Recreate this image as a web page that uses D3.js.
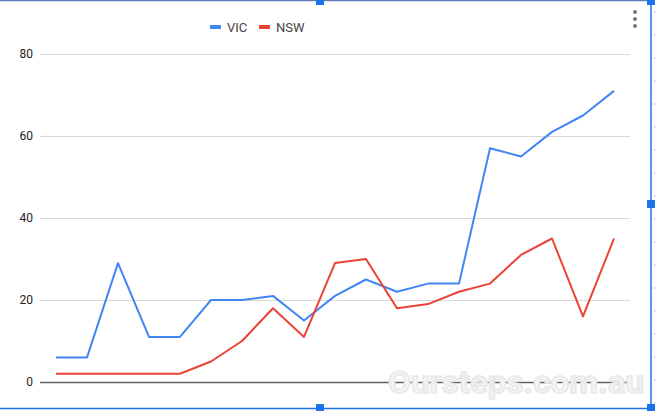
<!DOCTYPE html>
<html>
<head>
<meta charset="utf-8">
<script src="https://cdn.jsdelivr.net/npm/d3@7"></script>
<style>
  body { margin: 0; background: #fff; }
  svg { display: block; font-family: Roboto, Arial, sans-serif; }
</style>
</head>
<body>
<div id="chart"></div>
<script>
// values, one point per period
const periods = d3.range(1, 20);
const vic = [6, 6, 29, 11, 11, 20, 20, 21, 15, 21, 25, 22, 24, 24, 57, 55, 61, 65, 71];
const nsw = [2, 2, 2, 2, 2, 5, 10, 18, 11, 29, 30, 18, 19, 22, 24, 31, 35, 16, 35];
const yTicks = [0, 20, 40, 60, 80];
const seriesNames = ["VIC", "NSW"];

const W = 656, H = 411;
const blue = "#4285f4", red = "#ea4335", selBlue = "#1a73e8";

const svg = d3.select("#chart").append("svg")
  .attr("width", W)
  .attr("height", H);

const x = d3.scalePoint().domain(periods).range([56, 614]);
const y = d3.scaleLinear().domain([0, 80]).range([382, 54]);

// gridlines + y labels
const yAxis = d3.axisLeft(y).tickValues(yTicks).tickSize(-590).tickPadding(7);
const gy = svg.append("g")
  .attr("transform", "translate(40,0)")
  .call(yAxis);
gy.select(".domain").remove();
gy.selectAll(".tick line").attr("stroke", "#d9d9d9").attr("stroke-width", 1);
gy.selectAll(".tick text").attr("fill", "#222").attr("font-size", 12).attr("font-family", "Roboto, Arial, sans-serif");
gy.selectAll(".tick").filter(d => d === 0).select("line").attr("stroke", "#5f5f5f").attr("stroke-width", 1.5);

// watermark
svg.append("text")
  .attr("x", 388).attr("y", 393)
  .attr("font-size", 32).attr("font-weight", "bold")
  .attr("textLength", 256).attr("lengthAdjust", "spacingAndGlyphs")
  .attr("fill", "#f3f3f3")
  .attr("stroke", "#e8e8e8").attr("stroke-width", 1.5)
  .text("Oursteps.com.au");

// lines
const line = d3.line()
  .x((d, i) => x(periods[i]))
  .y(d => y(d));

[[vic, blue], [nsw, red]].forEach(([vals, col]) => {
  svg.append("path")
    .datum(vals)
    .attr("fill", "none")
    .attr("stroke", col)
    .attr("stroke-width", 2)
    .attr("stroke-linejoin", "round")
    .attr("d", line);
});

// legend
const legend = svg.append("g").attr("transform", "translate(210,27)");
const lx = [0, 49];
seriesNames.forEach((n, i) => {
  const g = legend.append("g").attr("transform", `translate(${lx[i]},0)`);
  g.append("rect").attr("x", 0).attr("y", -2).attr("width", 11).attr("height", 4).attr("fill", i ? red : blue);
  g.append("text").attr("x", 17).attr("y", 5).attr("font-size", 13).attr("fill", "#444").text(n);
});

// kebab menu
[12, 19, 26].forEach(cy => {
  svg.append("circle").attr("cx", 635).attr("cy", cy).attr("r", 2).attr("fill", "#757575");
});

// sheet gridline stubs right of the chart
d3.range(12, 411, 23).forEach(gyy => {
  svg.append("line").attr("x1", 653).attr("x2", 656).attr("y1", gyy).attr("y2", gyy).attr("stroke", "#d0d0d0");
});

// selection frame
svg.append("line").attr("x1", 0).attr("x2", 651).attr("y1", 0.5).attr("y2", 0.5).attr("stroke", "#5b7fb8").attr("stroke-width", 1.5);
svg.append("line").attr("x1", 651).attr("x2", 651).attr("y1", 0).attr("y2", 409).attr("stroke", selBlue).attr("stroke-width", 1.5);
svg.append("line").attr("x1", 0).attr("x2", 651).attr("y1", 408.5).attr("y2", 408.5).attr("stroke", selBlue).attr("stroke-width", 1.5);
[[320, 1], [651, 1], [651, 204], [651, 408], [320, 408]].forEach(([hx, hy]) => {
  svg.append("rect").attr("x", hx - 4).attr("y", hy - 4).attr("width", 8).attr("height", 8).attr("fill", selBlue);
});
</script>
</body>
</html>
